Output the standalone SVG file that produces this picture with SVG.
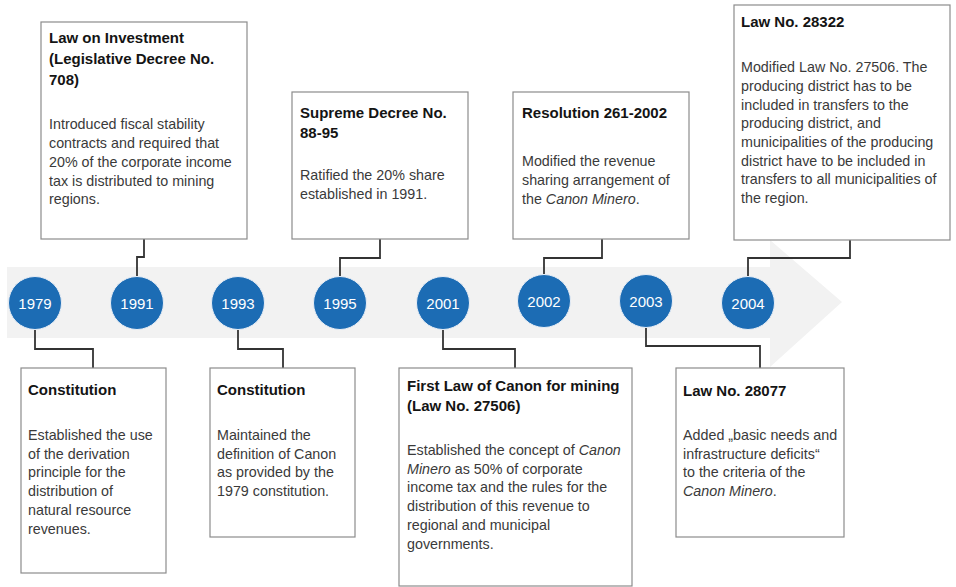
<svg xmlns="http://www.w3.org/2000/svg" width="956" height="587" viewBox="0 0 956 587">
<style>
.box{fill:#ffffff;stroke:#8c8c8c;stroke-width:1.2}
.t{font-family:"Liberation Sans",Arial,sans-serif;font-size:15px;font-weight:bold;fill:#141414}
.b{font-family:"Liberation Sans",Arial,sans-serif;font-size:14.3px;fill:#3a3a3a}
.yr{fill:#1c6cb4;stroke:#e8eef6;stroke-width:1}
.yt{font-family:"Liberation Sans",Arial,sans-serif;font-size:15px;fill:#ffffff;text-anchor:middle}
.c{fill:none;stroke:#333333;stroke-width:1.8}
</style>
<rect width="956" height="587" fill="#ffffff"/>
<path d="M7,267 H770 V240 L842,302 L770,367 V338 H7 Z" fill="#f2f2f2"/>
<g id="connectors">
<path class="c" d="M144,239 V257 H137 V276"/>
<path class="c" d="M380,239 V258 H340 V276"/>
<path class="c" d="M602,239 V258 H544 V274"/>
<path class="c" d="M850,240 V258 H748 V276"/>
<path class="c" d="M35,329 V349 H93 V368"/>
<path class="c" d="M238,329 V349 H283 V368"/>
<path class="c" d="M443,329 V349 H515 V368"/>
<path class="c" d="M646,327 V346 H760 V368"/>
</g>
<g id="y1979"><circle class="yr" cx="35" cy="303" r="26.5"/><text class="yt" x="35" y="308.5">1979</text></g>
<g id="y1991"><circle class="yr" cx="137" cy="303" r="26.5"/><text class="yt" x="137" y="308.5">1991</text></g>
<g id="y1993"><circle class="yr" cx="238" cy="303" r="26.5"/><text class="yt" x="238" y="308.5">1993</text></g>
<g id="y1995"><circle class="yr" cx="340" cy="303" r="26.5"/><text class="yt" x="340" y="308.5">1995</text></g>
<g id="y2001"><circle class="yr" cx="443" cy="303" r="26.5"/><text class="yt" x="443" y="308.5">2001</text></g>
<g id="y2002"><circle class="yr" cx="544" cy="301" r="26.5"/><text class="yt" x="544" y="306.5">2002</text></g>
<g id="y2003"><circle class="yr" cx="646" cy="301" r="26.5"/><text class="yt" x="646" y="306.5">2003</text></g>
<g id="y2004"><circle class="yr" cx="748" cy="303" r="26.5"/><text class="yt" x="748" y="308.5">2004</text></g>
<g id="box1991">
<rect class="box" x="41" y="22" width="206" height="217"/>
<text class="t" x="49" y="43">Law on Investment</text>
<text class="t" x="49" y="64">(Legislative Decree No.</text>
<text class="t" x="49" y="85">708)</text>
<text class="b" x="49" y="129">Introduced fiscal stability</text>
<text class="b" x="49" y="148">contracts and required that</text>
<text class="b" x="49" y="167">20% of the corporate income</text>
<text class="b" x="49" y="186">tax is distributed to mining</text>
<text class="b" x="49" y="204">regions.</text>
</g>
<g id="box1995">
<rect class="box" x="292" y="92" width="176" height="147"/>
<text class="t" x="300" y="118">Supreme Decree No.</text>
<text class="t" x="300" y="138">88-95</text>
<text class="b" x="300" y="180">Ratified the 20% share</text>
<text class="b" x="300" y="199">established in 1991.</text>
</g>
<g id="box2002">
<rect class="box" x="513" y="92" width="176" height="147"/>
<text class="t" x="522" y="118">Resolution 261-2002</text>
<text class="b" x="522" y="166">Modified the revenue</text>
<text class="b" x="522" y="185">sharing arrangement of</text>
<text class="b" x="522" y="204">the <tspan font-style="italic">Canon Minero</tspan>.</text>
</g>
<g id="box2004">
<rect class="box" x="734" y="5" width="216" height="235"/>
<text class="t" x="741" y="27">Law No. 28322</text>
<text class="b" x="741" y="72">Modified Law No. 27506. The</text>
<text class="b" x="741" y="91">producing district has to be</text>
<text class="b" x="741" y="110">included in transfers to the</text>
<text class="b" x="741" y="128">producing district, and</text>
<text class="b" x="741" y="147">municipalities of the producing</text>
<text class="b" x="741" y="166">district have to be included in</text>
<text class="b" x="741" y="184">transfers to all municipalities of</text>
<text class="b" x="741" y="203">the region.</text>
</g>
<g id="box1979">
<rect class="box" x="21" y="368" width="145" height="205"/>
<text class="t" x="28" y="395">Constitution</text>
<text class="b" x="28" y="440">Established the use</text>
<text class="b" x="28" y="459">of the derivation</text>
<text class="b" x="28" y="477">principle for the</text>
<text class="b" x="28" y="496">distribution of</text>
<text class="b" x="28" y="515">natural resource</text>
<text class="b" x="28" y="534">revenues.</text>
</g>
<g id="box1993">
<rect class="box" x="210" y="368" width="145" height="169"/>
<text class="t" x="217" y="395">Constitution</text>
<text class="b" x="217" y="440">Maintained the</text>
<text class="b" x="217" y="459">definition of Canon</text>
<text class="b" x="217" y="477">as provided by the</text>
<text class="b" x="217" y="496">1979 constitution.</text>
</g>
<g id="box2001">
<rect class="box" x="399" y="368" width="233" height="218"/>
<text class="t" x="407" y="391">First Law of Canon for mining</text>
<text class="t" x="407" y="411">(Law No. 27506)</text>
<text class="b" x="407" y="455">Established the concept of <tspan font-style="italic">Canon</tspan></text>
<text class="b" x="407" y="474"><tspan font-style="italic">Minero</tspan> as 50% of corporate</text>
<text class="b" x="407" y="492">income tax and the rules for the</text>
<text class="b" x="407" y="511">distribution of this revenue to</text>
<text class="b" x="407" y="530">regional and municipal</text>
<text class="b" x="407" y="549">governments.</text>
</g>
<g id="box2003">
<rect class="box" x="676" y="368" width="168" height="169"/>
<text class="t" x="683" y="396">Law No. 28077</text>
<text class="b" x="683" y="440">Added „basic needs and</text>
<text class="b" x="683" y="459">infrastructure deficits“</text>
<text class="b" x="683" y="477">to the criteria of the</text>
<text class="b" x="683" y="496"><tspan font-style="italic">Canon Minero</tspan>.</text>
</g>
</svg>
